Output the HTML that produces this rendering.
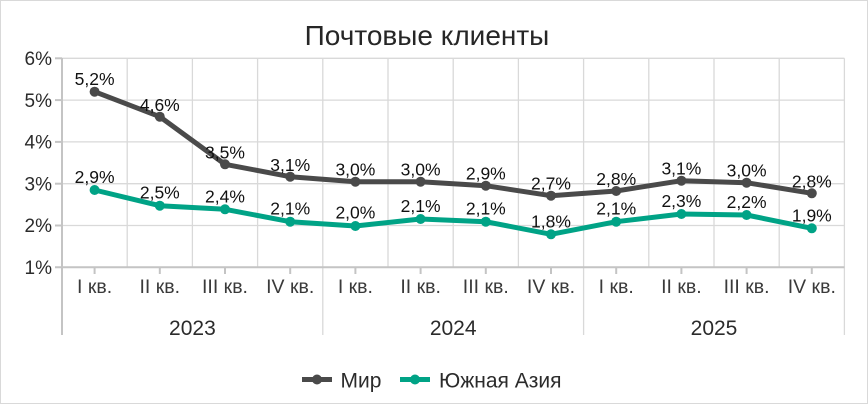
<!DOCTYPE html>
<html><head><meta charset="utf-8"><style>
html,body{margin:0;padding:0;background:#fff;}
svg{display:block;}
text{font-family:"Liberation Sans",sans-serif;}
</style></head><body>
<svg width="868" height="404" viewBox="0 0 868 404" xmlns="http://www.w3.org/2000/svg">
<rect x="0.5" y="0.5" width="867" height="403" fill="#fff" stroke="#d9d9d9" stroke-width="1"/>
<text x="427" y="45" font-size="28" fill="#262626" text-anchor="middle">Почтовые клиенты</text>
<g stroke="#d9d9d9" stroke-width="1.3">
<line x1="62" y1="58.3" x2="844.4" y2="58.3"/>
<line x1="62" y1="100.1" x2="844.4" y2="100.1"/>
<line x1="62" y1="141.9" x2="844.4" y2="141.9"/>
<line x1="62" y1="183.7" x2="844.4" y2="183.7"/>
<line x1="62" y1="225.5" x2="844.4" y2="225.5"/>
<line x1="127.2" y1="58.3" x2="127.2" y2="267.3"/>
<line x1="192.4" y1="58.3" x2="192.4" y2="267.3"/>
<line x1="257.6" y1="58.3" x2="257.6" y2="267.3"/>
<line x1="388" y1="58.3" x2="388" y2="267.3"/>
<line x1="453.2" y1="58.3" x2="453.2" y2="267.3"/>
<line x1="518.4" y1="58.3" x2="518.4" y2="267.3"/>
<line x1="648.8" y1="58.3" x2="648.8" y2="267.3"/>
<line x1="714" y1="58.3" x2="714" y2="267.3"/>
<line x1="779.2" y1="58.3" x2="779.2" y2="267.3"/>
<line x1="322.8" y1="58.3" x2="322.8" y2="335"/>
<line x1="583.6" y1="58.3" x2="583.6" y2="335"/>
<line x1="844.4" y1="58.3" x2="844.4" y2="335"/>
</g>
<g stroke="#c4c4c4" stroke-width="2">
<line x1="62" y1="58" x2="62" y2="335"/>
<line x1="55" y1="267.3" x2="844.4" y2="267.3"/>
<line x1="55" y1="58.3" x2="62" y2="58.3"/>
<line x1="55" y1="100.1" x2="62" y2="100.1"/>
<line x1="55" y1="141.9" x2="62" y2="141.9"/>
<line x1="55" y1="183.7" x2="62" y2="183.7"/>
<line x1="55" y1="225.5" x2="62" y2="225.5"/>
<line x1="94.6" y1="267" x2="94.6" y2="274"/>
<line x1="159.8" y1="267" x2="159.8" y2="274"/>
<line x1="225" y1="267" x2="225" y2="274"/>
<line x1="290.2" y1="267" x2="290.2" y2="274"/>
<line x1="355.4" y1="267" x2="355.4" y2="274"/>
<line x1="420.6" y1="267" x2="420.6" y2="274"/>
<line x1="485.8" y1="267" x2="485.8" y2="274"/>
<line x1="551" y1="267" x2="551" y2="274"/>
<line x1="616.2" y1="267" x2="616.2" y2="274"/>
<line x1="681.4" y1="267" x2="681.4" y2="274"/>
<line x1="746.6" y1="267" x2="746.6" y2="274"/>
<line x1="811.8" y1="267" x2="811.8" y2="274"/>
</g>
<g font-size="19" fill="#2b2b2b" text-anchor="end">
<text x="52" y="65">6%</text>
<text x="52" y="106.8">5%</text>
<text x="52" y="148.6">4%</text>
<text x="52" y="190.4">3%</text>
<text x="52" y="232.2">2%</text>
<text x="52" y="274">1%</text>
</g>
<g font-size="19.5" fill="#3a3a3a" text-anchor="middle">
<text x="94.6" y="293">I кв.</text>
<text x="159.8" y="293">II кв.</text>
<text x="225" y="293">III кв.</text>
<text x="290.2" y="293">IV кв.</text>
<text x="355.4" y="293">I кв.</text>
<text x="420.6" y="293">II кв.</text>
<text x="485.8" y="293">III кв.</text>
<text x="551" y="293">IV кв.</text>
<text x="616.2" y="293">I кв.</text>
<text x="681.4" y="293">II кв.</text>
<text x="746.6" y="293">III кв.</text>
<text x="811.8" y="293">IV кв.</text>
</g>
<g font-size="21" fill="#2b2b2b" text-anchor="middle">
<text x="192.4" y="335">2023</text>
<text x="453.2" y="335">2024</text>
<text x="714" y="335">2025</text>
</g>
<polyline fill="none" stroke="#4a4a4a" stroke-width="5" stroke-linejoin="round" stroke-linecap="round"
points="94.6,91.7 159.8,116.7 225,164.3 290.2,176.7 355.4,181.7 420.6,181.7 485.8,185.7 551,195.7 616.2,191 681.4,180.7 746.6,182.7 811.8,193.3"/>
<g fill="#4a4a4a">
<circle cx="94.6" cy="91.7" r="5"/><circle cx="159.8" cy="116.7" r="5"/><circle cx="225" cy="164.3" r="5"/><circle cx="290.2" cy="176.7" r="5"/><circle cx="355.4" cy="181.7" r="5"/><circle cx="420.6" cy="181.7" r="5"/><circle cx="485.8" cy="185.7" r="5"/><circle cx="551" cy="195.7" r="5"/><circle cx="616.2" cy="191" r="5"/><circle cx="681.4" cy="180.7" r="5"/><circle cx="746.6" cy="182.7" r="5"/><circle cx="811.8" cy="193.3" r="5"/>
</g>
<polyline fill="none" stroke="#00a386" stroke-width="5" stroke-linejoin="round" stroke-linecap="round"
points="94.6,190 159.8,205.7 225,209.3 290.2,221.7 355.4,226 420.6,219 485.8,221.7 551,234.3 616.2,221.7 681.4,214 746.6,215 811.8,228.3"/>
<g fill="#00a386">
<circle cx="94.6" cy="190" r="5"/><circle cx="159.8" cy="205.7" r="5"/><circle cx="225" cy="209.3" r="5"/><circle cx="290.2" cy="221.7" r="5"/><circle cx="355.4" cy="226" r="5"/><circle cx="420.6" cy="219" r="5"/><circle cx="485.8" cy="221.7" r="5"/><circle cx="551" cy="234.3" r="5"/><circle cx="616.2" cy="221.7" r="5"/><circle cx="681.4" cy="214" r="5"/><circle cx="746.6" cy="215" r="5"/><circle cx="811.8" cy="228.3" r="5"/>
</g>
<g font-size="17.5" fill="#111" text-anchor="middle">
<text x="94.6" y="85">5,2%</text>
<text x="159.8" y="111">4,6%</text>
<text x="225" y="158.3">3,5%</text>
<text x="290.2" y="171">3,1%</text>
<text x="355.4" y="175.7">3,0%</text>
<text x="420.6" y="175.7">3,0%</text>
<text x="485.8" y="179.7">2,9%</text>
<text x="551" y="189.7">2,7%</text>
<text x="616.2" y="185">2,8%</text>
<text x="681.4" y="174.7">3,1%</text>
<text x="746.6" y="176.7">3,0%</text>
<text x="811.8" y="187.3">2,8%</text>
<text x="94.6" y="183">2,9%</text>
<text x="159.8" y="198.7">2,5%</text>
<text x="225" y="202.3">2,4%</text>
<text x="290.2" y="214.7">2,1%</text>
<text x="355.4" y="218.7">2,0%</text>
<text x="420.6" y="212">2,1%</text>
<text x="485.8" y="214.7">2,1%</text>
<text x="551" y="227.3">1,8%</text>
<text x="616.2" y="214.7">2,1%</text>
<text x="681.4" y="207">2,3%</text>
<text x="746.6" y="208">2,2%</text>
<text x="811.8" y="221.3">1,9%</text>
</g>
<line x1="302" y1="379.5" x2="332" y2="379.5" stroke="#4a4a4a" stroke-width="5"/>
<circle cx="317" cy="379.5" r="5" fill="#4a4a4a"/>
<text x="340.5" y="387.5" font-size="21" fill="#2b2b2b">Мир</text>
<line x1="400" y1="379.5" x2="430" y2="379.5" stroke="#00a386" stroke-width="5"/>
<circle cx="415" cy="379.5" r="5" fill="#00a386"/>
<text x="439" y="387.5" font-size="21" fill="#2b2b2b">Южная Азия</text>
</svg>
</body></html>
